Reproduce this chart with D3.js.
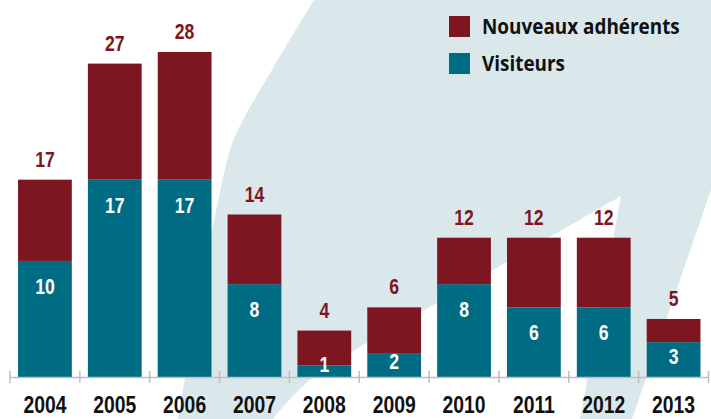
<!doctype html>
<html>
<head>
<meta charset="utf-8"/>
<script src="https://cdnjs.cloudflare.com/ajax/libs/d3/7.8.5/d3.min.js"></script>
<style>
  body { margin: 0; background: #fff; }
  svg { display: block; }
  .num { font-family: "Liberation Sans", Arial, sans-serif; font-weight: bold; }
</style>
</head>
<body>
<svg id="chart" width="711" height="419"></svg>
<script>
var years = ["2004", "2005", "2006", "2007", "2008", "2009", "2010", "2011", "2012", "2013"];
var visiteurs = [10, 17, 17, 8, 1, 2, 8, 6, 6, 3];
var adherents = [7, 10, 11, 6, 3, 4, 4, 6, 6, 2];
var seriesNames = ["Nouveaux adhérents", "Visiteurs"];

var colRed = "#7d1620", colTeal = "#006c84", colBg = "#dae8eb";

var svg = d3.select("#chart");

// decorative swoosh in the background
var leftEdge = [[314, 0], [272, 70], [243, 120], [230, 150], [178, 419]];
var notch = [[273, 419], [310, 380], [440, 301], [493, 270], [621, 196]];
var lePath = d3.line().curve(d3.curveCatmullRom)(leftEdge);
var notchPath = d3.line().curve(d3.curveCatmullRom)(notch);
svg.append("path")
  .attr("fill", colBg)
  .attr("d", lePath + notchPath.replace(/^M/, "L") + "L580,419L632,419L711,190L711,0Z");

var data = years.map(function (y, i) {
  return { year: y, vis: visiteurs[i], adh: adherents[i], total: visiteurs[i] + adherents[i] };
});

var x = d3.scaleBand().domain(years).range([10, 708.5]).paddingInner(0.23).paddingOuter(0.115);
var y = d3.scaleLinear().domain([0, 28]).range([377, 52]);

var stack = d3.stack().keys(["vis", "adh"])(data);
var colors = { vis: colTeal, adh: colRed };

svg.append("g").selectAll("g")
  .data(stack).join("g")
  .attr("fill", function (s) { return colors[s.key]; })
  .selectAll("rect")
  .data(function (s) { return s; }).join("rect")
  .attr("x", function (d) { return x(d.data.year); })
  .attr("width", x.bandwidth())
  .attr("y", function (d) { return y(d[1]); })
  .attr("height", function (d) { return y(d[0]) - y(d[1]); });

// axis
var half = x.step() * x.paddingInner() / 2;
var axisG = svg.append("g");
axisG.append("line")
  .attr("x1", 10).attr("x2", 708.5)
  .attr("y1", 377.5).attr("y2", 377.5)
  .attr("stroke", "#bfbfbf").attr("stroke-width", 1.5);
var tickPos = years.map(function (d) { return x(d) - half; })
  .concat([x(years[years.length - 1]) + x.bandwidth() + half]);
axisG.selectAll(".tk").data(tickPos).join("line")
  .attr("x1", function (d) { return d; }).attr("x2", function (d) { return d; })
  .attr("y1", 371).attr("y2", 383)
  .attr("stroke", "#bfbfbf").attr("stroke-width", 1.5);

// condensed text: squeeze horizontally
function place(sx) {
  return function (px, py) { return "translate(" + px + "," + py + ") scale(" + sx + ",1)"; };
}
var narrow = place(0.8);

svg.append("g").selectAll("text")
  .data(years).join("text")
  .attr("class", "num")
  .attr("transform", function (d) { return place(0.79)(x(d) + x.bandwidth() / 2, 413); })
  .attr("text-anchor", "middle")
  .attr("font-size", 24.5)
  .attr("fill", "#111")
  .text(function (d) { return d; });

// totals above bars
svg.append("g").selectAll("text")
  .data(data).join("text")
  .attr("class", "num")
  .attr("transform", function (d) { return narrow(x(d.year) + x.bandwidth() / 2, y(d.total) - 13); })
  .attr("text-anchor", "middle")
  .attr("font-size", 22)
  .attr("fill", colRed)
  .text(function (d) { return d.total; });

// visitor values inside bars
svg.append("g").selectAll("text")
  .data(data).join("text")
  .attr("class", "num")
  .attr("transform", function (d) {
    var top = y(d.vis), bot = y(0);
    return narrow(x(d.year) + x.bandwidth() / 2, Math.min(top + 33, (top + bot) / 2 + 4, bot - 5));
  })
  .attr("text-anchor", "middle")
  .attr("font-size", 22)
  .attr("fill", "#fff")
  .text(function (d) { return d.vis; });

// legend
var leg = svg.append("g").attr("transform", "translate(449,16)");
var legItems = leg.selectAll("g").data(seriesNames).join("g")
  .attr("transform", function (d, i) { return "translate(0," + (i * 37) + ")"; });
legItems.append("rect").attr("width", 21).attr("height", 21)
  .attr("fill", function (d, i) { return i === 0 ? colRed : colTeal; });
legItems.append("text")
  .attr("transform", "translate(33,18) scale(0.9,1)")
  .attr("font-family", "'Open Sans', 'Noto Sans', sans-serif")
  .attr("font-weight", "bold")
  .attr("font-size", 21)
  .attr("fill", "#111")
  .text(function (d) { return d; });
</script>
</body>
</html>
